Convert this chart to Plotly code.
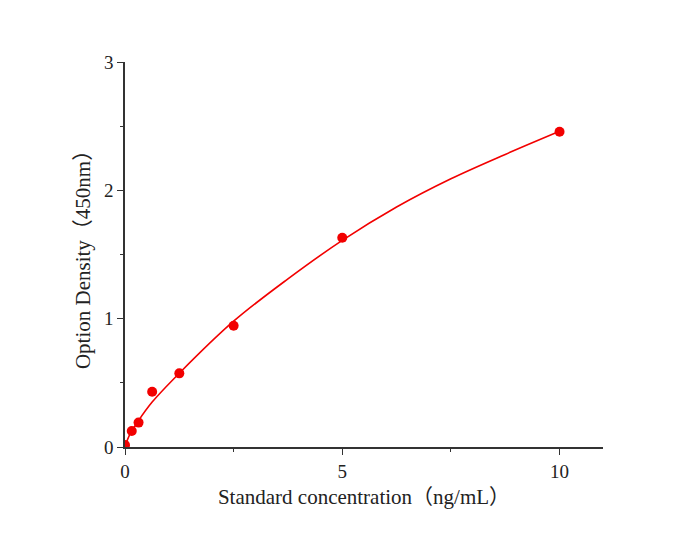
import plotly.graph_objects as go

# Standard points
conc = [0, 0.156, 0.312, 0.625, 1.25, 2.5, 5, 10]
od = [0.015, 0.125, 0.19, 0.43, 0.574, 0.945, 1.63, 2.457]

# Fitted curve
curve_x = [0, 0.1, 0.3, 0.625, 1.25, 2.5, 3.75, 5.0, 6.25, 7.5, 8.75, 10.0]
curve_y = [0, 0.09, 0.20, 0.35, 0.575, 0.98, 1.31, 1.61, 1.87, 2.09, 2.28, 2.46]

serif = "Liberation Serif, Times New Roman, Noto Sans CJK SC, serif"
axis_col = "#333333"
red = "#f20000"

fig = go.Figure()
fig.add_trace(go.Scatter(x=curve_x, y=curve_y, mode="lines",
                         line=dict(color=red, width=1.6, shape="spline", smoothing=1),
                         hoverinfo="skip"))
fig.add_trace(go.Scatter(x=conc, y=od, mode="markers",
                         marker=dict(color=red, size=10)))

axis_common = dict(
    showline=True, linecolor=axis_col, linewidth=1.5,
    ticks="outside", tickcolor=axis_col, tickwidth=1.2, ticklen=6,
    showgrid=False, zeroline=False, mirror=False, automargin=False,
    tickfont=dict(family=serif, size=19, color="#222"),
)

fig.update_xaxes(
    range=[0, 11], tickvals=[0, 5, 10],
    minor=dict(tickvals=[2.5, 7.5], ticks="outside", ticklen=3,
               tickcolor=axis_col, tickwidth=1.2),
    title=dict(text="Standard concentration（ng/mL）",
               font=dict(family=serif, size=21, color="#222"), standoff=9),
    **axis_common,
)
fig.update_yaxes(
    range=[0, 3], tickvals=[0, 1, 2, 3],
    minor=dict(tickvals=[0.5, 1.5, 2.5], ticks="outside", ticklen=3,
               tickcolor=axis_col, tickwidth=1.2),
    title=dict(text="Option Density（450nm）",
               font=dict(family=serif, size=21, color="#222"), standoff=8),
    **axis_common,
)

# page body adds an 8px offset, so margins are shifted by that amount
fig.update_layout(
    width=700, height=536,
    margin=dict(l=117, r=105, t=54, b=97),
    plot_bgcolor="white", paper_bgcolor="white",
    showlegend=False,
)

fig.write_html("out.html")
